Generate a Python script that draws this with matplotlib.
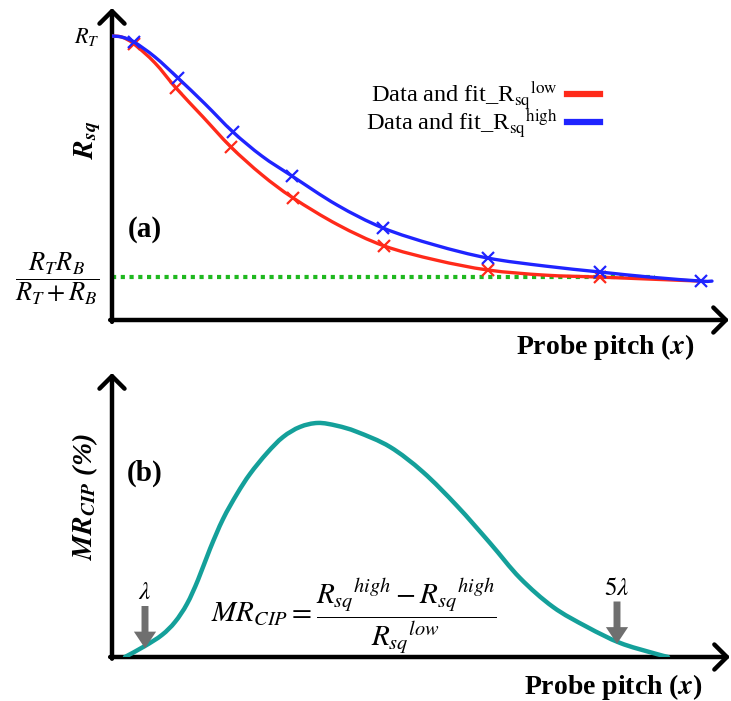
import numpy as np
import matplotlib
matplotlib.use("Agg")
import matplotlib.pyplot as plt
from matplotlib.lines import Line2D
from matplotlib.path import Path
from matplotlib.patches import PathPatch

plt.rcParams['font.family'] = ['Liberation Serif', 'DejaVu Serif']
plt.rcParams['mathtext.fontset'] = 'stix'

# (a) sheet resistance vs probe pitch, normalised to R_T
x_high = [0.00, 0.10, 0.22, 0.43, 0.66, 0.93, 1.21, 1.50, 1.80, 2.25, 2.71, 3.23, 3.76, 4.33, 4.88, 5.38, 5.89, 6.00]
r_high = [1.000, 0.996, 0.979, 0.926, 0.852, 0.761, 0.662, 0.577, 0.507, 0.405, 0.324, 0.264, 0.218, 0.190, 0.169, 0.151, 0.137, 0.137]
x_low = [0.00, 0.10, 0.22, 0.43, 0.64, 0.91, 1.19, 1.50, 1.81, 2.26, 2.72, 3.24, 3.76, 4.33, 4.88, 5.38, 5.88]
r_low = [1.000, 0.996, 0.972, 0.905, 0.817, 0.715, 0.609, 0.511, 0.430, 0.335, 0.261, 0.211, 0.176, 0.158, 0.151, 0.144, 0.137]
mark_high = [2, 4, 6, 8, 10, 12, 14, 16]   # indices of measured points
mark_low = [2, 4, 6, 8, 10, 12, 14]
r_parallel = 0.151
x_parallel_end = 5.43

# (b) MR_CIP vs probe pitch (normalised to peak)
x_mr = [0.13, 0.33, 0.50, 0.63, 0.75, 0.86, 0.98, 1.11, 1.25, 1.38, 1.55, 1.71, 1.88, 2.06, 2.25,
        2.45, 2.78, 3.11, 3.45, 3.78, 4.08, 4.41, 4.75, 5.08, 5.41, 5.56]
mr = [0.000, 0.047, 0.094, 0.149, 0.226, 0.328, 0.460, 0.587, 0.694, 0.779, 0.868, 0.936, 0.979, 0.996, 0.984,
      0.958, 0.894, 0.787, 0.643, 0.485, 0.336, 0.213, 0.128, 0.060, 0.017, 0.000]
arrow_x = [0.33, 5.05]
arrow_lbl = [r'$\lambda$', r'$5\lambda$']

W, H = 731, 701
fig = plt.figure(figsize=(W / 100, H / 100), dpi=100)

def fx(px):
    return px / W

def fy(py):
    return 1 - py / H

def smooth(ax, x, y, **kw):
    # Catmull-Rom through the read points, drawn as cubic Bezier segments
    p = np.column_stack([x, y])
    ext = np.vstack([p[0], p, p[-1]])
    verts = [p[0]]
    codes = [Path.MOVETO]
    for i in range(1, len(ext) - 2):
        c1 = ext[i] + (ext[i + 1] - ext[i - 1]) / 6
        c2 = ext[i + 1] - (ext[i + 2] - ext[i]) / 6
        verts += [c1, c2, ext[i + 1]]
        codes += [Path.CURVE4] * 3
    ax.add_patch(PathPatch(Path(verts, codes), fill=False, capstyle='round', **kw))

ax1 = fig.add_axes([fx(112), fy(320), (729 - 112) / W, (320 - 8) / H])
ax2 = fig.add_axes([fx(112), fy(657), (730 - 112) / W, (657 - 373) / H])
ax1.set_xlim(0, 6.17)
ax1.set_ylim(0, 312 / 284)
ax2.set_xlim(0, 6.18)
ax2.set_ylim(0, 284 / 235)

for a in (ax1, ax2):
    a.set_axis_off()
    ap = dict(arrowstyle='->,head_length=0.9,head_width=0.9', lw=3.2, color='black',
              shrinkA=0, shrinkB=0)
    a.annotate('', xy=(0, 1), xytext=(0, -0.006), xycoords='axes fraction', arrowprops=ap)
    a.annotate('', xy=(1, 0), xytext=(-0.003, 0), xycoords='axes fraction', arrowprops=ap)

# panel (a)
ax1.plot([0, x_parallel_end], [r_parallel, r_parallel], color='#1fb81f', lw=3,
         linestyle=(0, (1, 1.1)), zorder=2)
smooth(ax1, x_low, r_low, edgecolor='#ff2a1a', lw=2.4, zorder=3)
ax1.plot([x_low[i] for i in mark_low], [r_low[i] for i in mark_low], 'x',
         color='#ff2a1a', ms=9, mew=1.6, zorder=3)
smooth(ax1, x_high, r_high, edgecolor='#1f24ff', lw=2.4, zorder=4)
ax1.plot([x_high[i] for i in mark_high], [r_high[i] for i in mark_high], 'x',
         color='#1f24ff', ms=9, mew=1.6, zorder=4)

handles = [Line2D([], [], color='#ff2a1a', lw=4.5), Line2D([], [], color='#1f24ff', lw=4.5)]
labels = [r'Data and fit_R$_{\mathrm{sq}}$$^{\mathrm{low}}$',
          r'Data and fit_R$_{\mathrm{sq}}$$^{\mathrm{high}}$']
fig.legend(handles, labels, loc='upper left', bbox_to_anchor=(fx(366), fy(79)),
           frameon=False, fontsize=17.5, markerfirst=False, handlelength=1.35,
           handletextpad=0.4, labelspacing=-0.2, borderpad=0, borderaxespad=0)

fig.text(fx(145), fy(230), '(a)', fontsize=21, fontweight='bold', ha='center', va='center')
fig.text(fx(88), fy(140), r'$\mathbfit{R}_{\mathbfit{sq}}$', fontsize=20, rotation=90,
         ha='center', va='center')
fig.text(fx(87), fy(37), r'$R_T$', fontsize=16, ha='center', va='center')
fig.text(fx(57), fy(279), r'$\dfrac{R_T R_B}{R_T + R_B}$', fontsize=19, ha='center', va='center')
fig.text(fx(605), fy(347), r'Probe pitch ($\mathbfit{x}$)', fontsize=20, fontweight='bold',
         ha='center', va='center')

# panel (b)
smooth(ax2, x_mr, mr, edgecolor='#14a09a', lw=3.2, zorder=3)
for xa, lbl in zip(arrow_x, arrow_lbl):
    tip = np.interp(xa, x_mr, mr) - 0.01
    ax2.annotate('', xy=(xa, tip), xytext=(xa, tip + 0.18),
                 arrowprops=dict(arrowstyle='simple,head_width=1.6,head_length=1.2,tail_width=0.5',
                                 color='#6f6f6f', lw=0, shrinkA=0, shrinkB=0))
    ax2.text(xa, tip + 0.235, lbl, fontsize=18, ha='center', va='center')

fig.text(fx(145), fy(473), '(b)', fontsize=21, fontweight='bold', ha='center', va='center')
fig.text(fx(85), fy(497), r'$\mathbfit{MR}_{\mathbfit{CIP}}$ (%)', fontsize=20, rotation=90,
         fontweight='bold', style='italic', ha='center', va='center')
fig.text(fx(354), fy(616),
         r'$MR_{CIP} = \dfrac{R_{sq}{}^{high} - R_{sq}{}^{high}}{R_{sq}{}^{low}}$',
         fontsize=21, ha='center', va='center')
fig.text(fx(613), fy(687), r'Probe pitch ($\mathbfit{x}$)', fontsize=20, fontweight='bold',
         ha='center', va='center')

fig.savefig('out.png', dpi=100)
